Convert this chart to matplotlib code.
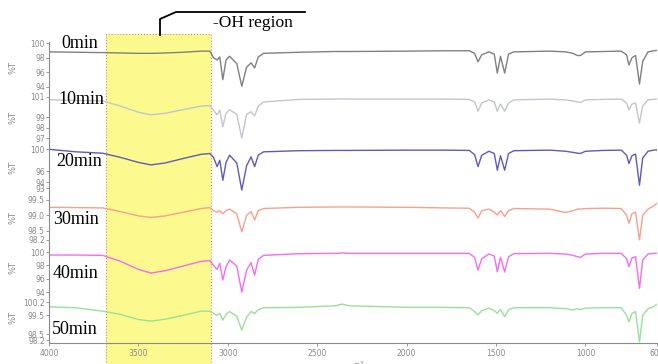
import matplotlib
matplotlib.use("Agg")
import matplotlib.pyplot as plt
from matplotlib.patches import Rectangle
from matplotlib.lines import Line2D

# wavenumber grid (cm-1)
wn = [4000, 3850, 3700, 3600, 3500, 3430, 3350, 3250, 3150, 3100,
      3080, 3060, 3045, 3028, 3010, 2990, 2950, 2922, 2895, 2870,
      2850, 2830, 2800, 2600, 2400, 2360, 2320, 2000, 1800, 1650,
      1620, 1601, 1580, 1540, 1510, 1493, 1475, 1452, 1430, 1400,
      1200, 1110, 1070, 1045, 1028, 1000, 900, 800, 770, 757,
      740, 720, 698, 680, 650, 620, 600]

# %T values for each sampling time
t_0min = [98.8, 98.75, 98.7, 98.65, 98.6, 98.6, 98.65, 98.75, 98.9, 98.9,
          98.0, 97.7, 98.1, 95.0, 97.7, 98.2, 97.2, 94.1, 96.7, 97.3,
          96.6, 98.1, 98.6, 98.75, 98.85, 98.85, 98.85, 98.9, 98.95, 98.95,
          98.6, 97.45, 98.4, 98.8, 98.5, 95.9, 98.2, 95.9, 98.5, 98.8,
          98.9, 98.8, 98.6, 98.3, 98.3, 98.8, 98.85, 98.9, 98.4, 97.0,
          98.0, 98.3, 94.4, 97.5, 98.8, 98.95, 99.0]
t_10min = [100.71, 100.65, 100.6, 100.1, 99.5, 99.25, 99.4, 99.75, 100.1, 100.15,
           99.7, 99.25, 99.7, 98.1, 99.4, 99.75, 99.3, 97.0, 99.3, 99.55,
           99.15, 100.1, 100.5, 100.75, 100.78, 100.8, 100.78, 100.78, 100.78, 100.75,
           100.5, 99.6, 100.4, 100.7, 100.5, 99.6, 100.3, 99.6, 100.4, 100.7,
           100.78, 100.7, 100.6, 100.5, 100.45, 100.7, 100.75, 100.78, 100.4, 99.75,
           100.3, 100.4, 98.45, 100.1, 100.7, 100.75, 100.78]
t_20min = [99.95, 99.5, 99.25, 98.5, 97.6, 97.15, 97.5, 98.3, 99.05, 99.2,
           98.5, 96.85, 98.0, 94.4, 97.6, 98.9, 97.5, 92.65, 97.0, 98.6,
           96.85, 98.9, 99.5, 99.7, 99.75, 99.75, 99.75, 99.8, 99.8, 99.75,
           99.0, 96.85, 98.9, 99.6, 99.2, 96.2, 98.8, 96.2, 99.2, 99.7,
           99.8, 99.6, 99.4, 99.25, 99.2, 99.6, 99.75, 99.8, 98.9, 97.4,
           98.8, 99.1, 93.5, 98.4, 99.6, 99.8, 99.85]
t_30min = [99.26, 99.25, 99.24, 99.12, 98.98, 98.93, 98.98, 99.1, 99.22, 99.25,
           99.15, 99.1, 99.15, 99.05, 99.15, 99.2, 99.05, 98.46, 99.0, 99.12,
           98.85, 99.15, 99.22, 99.26, 99.27, 99.27, 99.27, 99.26, 99.24, 99.23,
           99.1, 98.91, 99.15, 99.2, 99.1, 99.01, 99.15, 98.96, 99.15, 99.22,
           99.2, 99.09, 99.15, 99.2, 99.2, 99.22, 99.23, 99.22, 99.0, 98.74,
           99.05, 99.1, 98.2, 99.0, 99.2, 99.3, 99.39]
t_40min = [99.55, 99.55, 99.5, 98.6, 97.4, 96.85, 97.2, 97.9, 98.6, 98.7,
           98.0, 97.4, 98.3, 95.8, 97.8, 98.8, 97.9, 94.0, 97.3, 98.4,
           96.55, 98.9, 99.5, 99.75, 99.8, 99.85, 99.8, 99.8, 99.8, 99.8,
           99.2, 97.3, 99.0, 99.7, 99.4, 97.05, 99.2, 97.0, 99.3, 99.75,
           99.8, 99.7, 99.5, 99.3, 99.2, 99.7, 99.8, 99.8, 99.0, 97.8,
           99.1, 99.3, 94.55, 98.8, 99.7, 99.8, 99.8]
t_50min = [99.95, 99.9, 99.72, 99.55, 99.28, 99.2, 99.3, 99.5, 99.72, 99.72,
           99.6, 99.5, 99.6, 99.25, 99.55, 99.7, 99.45, 98.73, 99.4, 99.7,
           99.6, 99.8, 99.9, 99.92, 100.0, 100.09, 100.0, 99.92, 99.92, 99.9,
           99.7, 99.52, 99.75, 99.88, 99.75, 99.61, 99.8, 99.43, 99.8, 99.9,
           99.9, 99.85, 99.78, 99.85, 99.8, 99.88, 99.9, 99.9, 99.5, 99.16,
           99.6, 99.7, 98.11, 99.5, 99.85, 99.95, 100.09]

labels = ["0min", "10min", "20min", "30min", "40min", "50min"]
series = [t_0min, t_10min, t_20min, t_30min, t_40min, t_50min]
colors = ["#808080", "#c2c6cc", "#5c5cb8", "#f7a08c", "#f36cf3", "#99e199"]
ylims = [(93.29, 100.15), (96.58, 101.45), (92.2, 101.2),
         (98.11, 99.74), (93.88, 101.4), (98.05, 100.68)]
yticks = [[100, 98, 96, 94], [101, 99, 98, 97], [100, 96, 94, 93],
          [99.5, 99.0, 98.5, 98.2], [100, 98, 96, 94], [100.2, 99.5, 98.5, 98.2]]
ytick_text = [["100", "98", "96", "94"], ["101", "99", "98", "97"],
              ["100", "96", "94", "93"], ["99.5", "99.0", "98.5", "98.2"],
              ["100", "98", "96", "94"], ["100.2", "99.5", "98.5", "98.2"]]
xticks = [4000, 3500, 3000, 2500, 2000, 1500, 1000, 600]

W, H = 658, 364


def fx(x):
    return x / W


def fy(y):
    return 1 - y / H


fig = plt.figure(figsize=(6.58, 3.64), dpi=100)

# yellow -OH band behind all panels
fig.add_artist(Rectangle((fx(106), 0), fx(211) - fx(106), fy(34),
                         transform=fig.transFigure, facecolor="#fcfa8e",
                         edgecolor="none", zorder=-2))
fig.add_artist(Rectangle((fx(106), -0.01), fx(211) - fx(106), fy(34) + 0.01,
                         transform=fig.transFigure, fill=False,
                         edgecolor="#e88080", linestyle=":", linewidth=0.8,
                         zorder=-1))

grey = "#8a8a8a"
top0, step = 42, 50.17
for i, (lab, ys, c) in enumerate(zip(labels, series, colors)):
    top = top0 + step * i
    bot = top + step
    ax = fig.add_axes([fx(49), fy(bot), fx(657) - fx(49), step / H])
    ax.set_facecolor("none")
    ax.plot(wn, ys, color=c, linewidth=1.0)
    ax.set_xlim(4000, 600)
    ax.set_ylim(*ylims[i])
    for s in ["top", "right"]:
        ax.spines[s].set_visible(False)
    ax.spines["left"].set_color(grey)
    ax.spines["left"].set_linewidth(0.8)
    ax.set_yticks(yticks[i])
    ax.set_yticklabels(ytick_text[i])
    ax.tick_params(axis="y", labelsize=5.5, labelcolor=grey, color=grey,
                   length=2, width=0.6, pad=1)
    ax.set_ylabel("%T", fontsize=6, color=grey)
    ax.yaxis.set_label_coords(-0.051, 0.5)
    if i < 5:
        ax.spines["bottom"].set_visible(False)
        ax.set_xticks([])
    else:
        ax.spines["bottom"].set_color(grey)
        ax.spines["bottom"].set_linewidth(0.8)
        ax.set_xticks(xticks)
        ax.tick_params(axis="x", labelsize=5.5, labelcolor=grey, color=grey,
                       length=2, width=0.6, pad=2)

# sample labels
label_pos = [(61, 43), (58, 100), (56, 162), (53, 220), (53, 273), (52, 330)]
for lab, (x, y) in zip(labels, label_pos):
    fig.text(fx(x), fy(y), lab, ha="left", va="center", fontsize=13,
             family="Liberation Serif")

# x axis unit, partly cut off at the bottom edge
fig.text(fx(352), fy(366), "cm$^{-1}$", ha="center", va="center",
         fontsize=7, color=grey)

# bracket and region label
fig.add_artist(Line2D([fx(160), fx(160), fx(176), fx(305)],
                      [fy(35), fy(19), fy(12), fy(12)],
                      transform=fig.transFigure, color="black", linewidth=1.3))
fig.text(fx(213), fy(23), "-OH region", ha="left", va="center", fontsize=12.5,
         family="Liberation Serif")

plt.savefig("out.png", dpi=100)
